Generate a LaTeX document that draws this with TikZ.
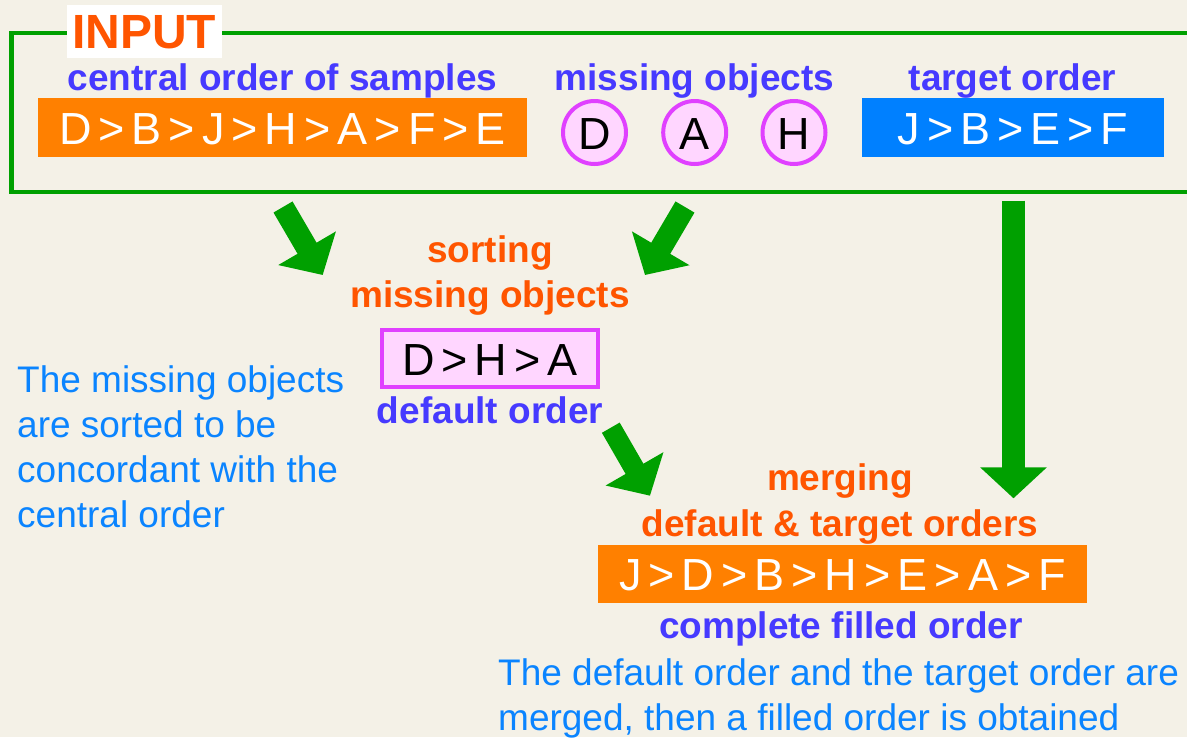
\documentclass[tikz,border=0pt]{standalone}
\usepackage{fontspec}
\setmainfont{Liberation Sans}
\newfontfamily\ordfont[WordSpace=0.56]{Liberation Sans}
\usetikzlibrary{arrows.meta,shapes.geometric}
\definecolor{bgc}{RGB}{244,241,231}
\definecolor{frgreen}{RGB}{0,160,0}
\definecolor{lblviolet}{RGB}{70,58,255}
\definecolor{ttlorange}{RGB}{255,85,0}
\definecolor{boxorange}{RGB}{255,128,0}
\definecolor{boxblue}{RGB}{0,128,255}
\definecolor{noteblue}{RGB}{10,132,255}
\definecolor{pinkfill}{RGB}{255,214,255}
\definecolor{magborder}{RGB}{224,64,255}
\begin{document}
\begin{tikzpicture}[x=1pt,y=-1pt,
  lbl/.style={font=\fontsize{37}{44.7}\selectfont\bfseries, text=lblviolet, inner sep=0pt, anchor=base},
  ttl/.style={font=\fontsize{37}{44.7}\selectfont\bfseries, text=ttlorange, inner sep=0pt, anchor=base, align=center},
  note/.style={font=\fontsize{37}{44.7}\selectfont, text=noteblue, inner sep=0pt, anchor=base west, align=left},
  ordtext/.style={font=\ordfont\fontsize{45}{50}\selectfont, inner sep=0pt, text height=33.5pt, text depth=0pt},
  ordbox/.style={ordtext, text=white, rectangle, minimum height=59pt},
  misscirc/.style={ordtext, circle, draw=magborder, fill=pinkfill, line width=4pt, minimum size=63pt, text=black},
  bigarrow/.style={draw=frgreen, line width=22pt, -{Triangle[length=31pt,width=65pt]}},
  frame/.style={draw=frgreen, line width=4.5pt}
]
\useasboundingbox (0,0) rectangle (1187,737);
\clip (0,0) rectangle (1187,737);
\fill[bgc] (0,0) rectangle (1187,737);

% input frame (open to the right edge)
\draw[frame] (1210,33) -- (11.5,33) -- (11.5,192) -- (1210,192);
\node[font=\fontsize{48}{50}\selectfont\bfseries, text=ttlorange, fill=white,
      inner xsep=5.5pt, inner ysep=10pt, anchor=base] (input) at (144,48) {INPUT};

% input contents
\node[lbl] (lcentral) at (282.5,90) {central order of samples};
\node[lbl] (lmissing) at (694.5,90) {missing objects};
\node[lbl] (ltarget) at (1012.5,90) {target order};

\node[ordbox, fill=boxorange, minimum width=489pt] (central) at (282.5,127.5) {D > B > J > H > A > F > E};
\node[misscirc] (mD) at (594.5,132.5) {D};
\node[misscirc] (mA) at (694.7,132.5) {A};
\node[misscirc] (mH) at (794,132.5) {H};
\node[ordbox, fill=boxblue, minimum width=302pt] (target) at (1013,127.5) {J > B > E > F};

% sorting step (base anchor = baseline of last line)
\node[ttl] (sorting) at (490,307) {sorting\\[-0.5pt]missing objects};
\node[ordtext, rectangle, draw=magborder, fill=pinkfill, line width=4pt,
      minimum width=216pt, minimum height=57pt, text=black] (default) at (490,358.5) {D > H > A};
\node[lbl] (ldefault) at (490,423) {default order};

\node[note] (note1) at (17,527) {The missing objects\\are sorted to be\\concordant with the\\central order};

% merging step
\node[ttl] (merging) at (840,536) {merging\\[1.3pt]default \& target orders};
\node[ordbox, fill=boxorange, minimum width=489pt, minimum height=58pt] (filled) at (842.5,574) {J > D > B > H > E > A > F};
\node[lbl] (lfilled) at (841,638) {complete filled order};
\node[note] (note2) at (498,730) {The default order and the target order are\\merged, then a filled order is obtained};

% arrows
\coordinate (a1s) at (283,207);
\coordinate (a1e) at (322.7,275);
\coordinate (a2s) at (685,207);
\coordinate (a2e) at (645,275);
\coordinate (a3s) at (610.8,427.7);
\coordinate (a3e) at (650,495.7);
\coordinate (a4s) at (1013.5,200.7);
\coordinate (a4e) at (1013.5,498.3);
\draw[bigarrow] (a1s) -- (a1e);
\draw[bigarrow] (a2s) -- (a2e);
\draw[bigarrow, line width=20.5pt] (a3s) -- (a3e);
\draw[bigarrow, line width=23pt] (a4s) -- (a4e);
\end{tikzpicture}
\end{document}
